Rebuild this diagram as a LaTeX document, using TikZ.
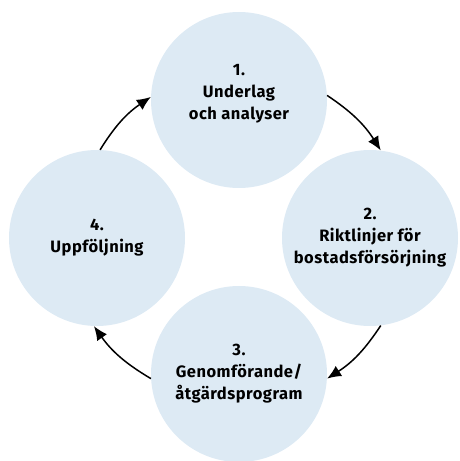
\documentclass[tikz,border=0pt]{standalone}
\usepackage{fontspec}
\setsansfont{Fira Sans}[LetterSpace=3]
\usetikzlibrary{arrows.meta}
\definecolor{circblue}{RGB}{221,234,244}
\tikzset{
	circ/.style={circle,fill=circblue,minimum size=176pt,inner sep=0pt,align=center,
		font=\sffamily\bfseries\fontsize{16.5}{22}\selectfont},
	arr/.style={-{Latex[length=14pt,width=12pt]},line width=1.5pt}
}
\begin{document}
\begin{tikzpicture}[x=1pt,y=1pt]
	\useasboundingbox (0,0) rectangle (460,461);
	\node[circ,text depth=16pt] (n1) at (239,361) {1.\\Underlag\\och analyser};
	\node[circ] (n2) at (370,223) {2.\\Riktlinjer för\\bostadsförsörjning};
	\node[circ] (n3) at (239,87) {3.\\Genomförande/\\åtgärdsprogram};
	\node[circ] (n4) at (97,223) {4.\\Uppföljning};

	\draw[arr] (n1.3) to[bend left=12] (n2.83);
	\draw[arr] (n2.277) to[bend left=12] (n3.357);
	\draw[arr] (n3.183) to[bend left=12] (n4.268);
	\draw[arr] (n4.88) to[bend left=12] (n1.178);
\end{tikzpicture}
\end{document}
